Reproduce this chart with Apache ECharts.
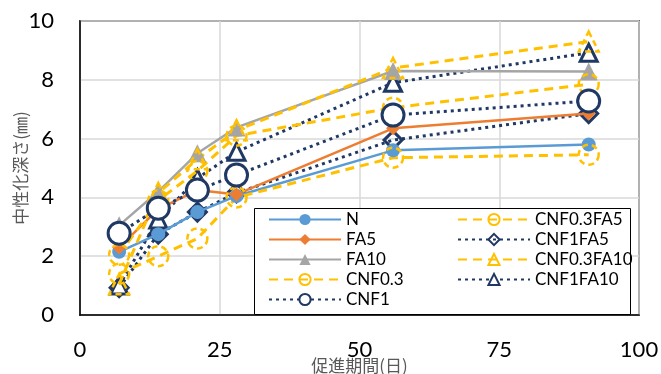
<!DOCTYPE html>
<html>
<head>
<meta charset="utf-8">
<script src="https://cdn.jsdelivr.net/npm/echarts@6/dist/echarts.min.js"></script>
<style>
  html, body { margin: 0; padding: 0; background: #fff; }
  #chart { width: 661px; height: 374px; }
</style>
</head>
<body>
<div id="chart"></div>
<script>
// Carbonation depth (mm) against accelerated exposure period (days)
const days = [7, 14, 21, 28, 56, 91];

const N          = [2.15, 2.75, 3.5, 4.05, 5.6, 5.8];
const FA5        = [2.3, 3.6, 4.25, 4.1, 6.35, 6.85];
const FA10       = [3.05, 4.2, 5.5, 6.38, 8.3, 8.28];
const CNF03      = [1.4, 2.0, 2.6, 4.0, 5.35, 5.45];
const CNF1       = [2.78, 3.63, 4.25, 4.76, 6.8, 7.28];
const CNF03FA5   = [2.05, 3.9, 4.9, 6.1, 7.05, 7.85];
const CNF1FA5    = [0.93, 2.75, 3.5, 4.15, 5.95, 6.85];
const CNF03FA10  = [1.05, 4.15, 5.3, 6.28, 8.4, 9.3];
const CNF1FA10   = [1.0, 3.25, 4.65, 5.55, 7.9, 8.92];

const xTicks = [0, 25, 50, 75, 100];
const yTicks = [0, 2, 4, 6, 8, 10];

const BLUE = '#5B9BD5', ORANGE = '#ED7D31', GREY = '#A5A5A5';
const GOLD = '#FFC000', NAVY = '#203864';
const DASH = [9, 6], DOT = [3, 4];

const pairs = vals => days.map((d, i) => [d, vals[i]]);

function solid(name, vals, color, symbol, size) {
  return {
    name, type: 'line', data: pairs(vals), symbol, symbolSize: size,
    lineStyle: { color, width: 2.5 },
    itemStyle: { color, borderWidth: 0 }
  };
}
function dashed(name, vals, symbol, size) {
  return {
    name, type: 'line', data: pairs(vals), symbol, symbolSize: size,
    lineStyle: { color: GOLD, width: 3, type: DASH },
    itemStyle: { color: 'rgba(255,255,255,0)', borderColor: GOLD, borderWidth: 2.5, borderType: [6, 4] }
  };
}
function dotted(name, vals, symbol, size, fill, z) {
  return {
    name, type: 'line', data: pairs(vals), symbol, symbolSize: size, z: z || 2,
    lineStyle: { color: NAVY, width: 3, type: DOT },
    itemStyle: { color: fill, borderColor: NAVY, borderWidth: 3 }
  };
}

const series = [
  solid('N', N, BLUE, 'circle', 14),
  solid('FA5', FA5, ORANGE, 'diamond', 14),
  solid('FA10', FA10, GREY, 'triangle', 18),
  dashed('CNF0.3', CNF03, 'circle', 20),
  dashed('CNF0.3FA5', CNF03FA5, 'circle', 20),
  dotted('CNF1FA5', CNF1FA5, 'diamond', 18, 'rgba(255,255,255,0)'),
  dashed('CNF0.3FA10', CNF03FA10, 'triangle', 20),
  dotted('CNF1FA10', CNF1FA10, 'triangle', 17, '#fff'),
  dotted('CNF1', CNF1, 'circle', 22, '#fff', 3)
];

const legendText = { fontFamily: 'Lato', fontSize: 17, color: '#000', lineHeight: 17 };
const legendCommon = {
  orient: 'vertical', itemWidth: 72, itemHeight: 14, itemGap: 3,
  padding: 0, textStyle: legendText, selectedMode: false
};

const chart = echarts.init(document.getElementById('chart'), null, { renderer: 'canvas' });
chart.setOption({
  animation: false,
  backgroundColor: '#fff',
  grid: {
    left: 80, right: 22, top: 21, bottom: 59,
    outerBoundsMode: 'none', containLabel: false,
    show: true, borderColor: '#000', borderWidth: 1.5, backgroundColor: 'transparent'
  },
  xAxis: {
    type: 'value', min: xTicks[0], max: xTicks[xTicks.length - 1], interval: 25,
    name: '促進期間(日)', nameLocation: 'middle', nameGap: 42, nameMoveOverlap: false,
    nameTextStyle: { fontFamily: 'Noto Sans CJK JP', fontSize: 17, color: '#595959' },
    axisLine: { show: true, lineStyle: { color: '#000', width: 1.5 } },
    axisTick: { show: false },
    axisLabel: { fontFamily: 'Lato', fontSize: 22, color: '#000', margin: 24 },
    splitLine: { show: true, lineStyle: { color: '#D9D9D9', width: 1.5 } }
  },
  yAxis: {
    type: 'value', min: yTicks[0], max: yTicks[yTicks.length - 1], interval: 2,
    name: '中性化深さ(㎜)', nameLocation: 'middle', nameGap: 51, nameMoveOverlap: false,
    nameTextStyle: { fontFamily: 'Noto Sans CJK JP', fontSize: 17, color: '#595959' },
    axisLine: { show: true, lineStyle: { color: '#000', width: 1.5 } },
    axisTick: { show: false },
    axisLabel: { fontFamily: 'Lato', fontSize: 22, color: '#000', margin: 26 },
    splitLine: { show: true, lineStyle: { color: '#D9D9D9', width: 1.5 } }
  },
  graphic: [{
    type: 'rect', left: 254, top: 208, z: 50,
    shape: { width: 376, height: 106 },
    style: { fill: '#fff', stroke: '#000', lineWidth: 1 }
  }],
  legend: [
    Object.assign({ left: 268, top: 211, data: ['N', 'FA5', 'FA10', 'CNF0.3', 'CNF1'], z: 60 }, legendCommon),
    Object.assign({ left: 457, top: 211, data: ['CNF0.3FA5', 'CNF1FA5', 'CNF0.3FA10', 'CNF1FA10'], z: 60 }, legendCommon)
  ],
  series
});
</script>
</body>
</html>
